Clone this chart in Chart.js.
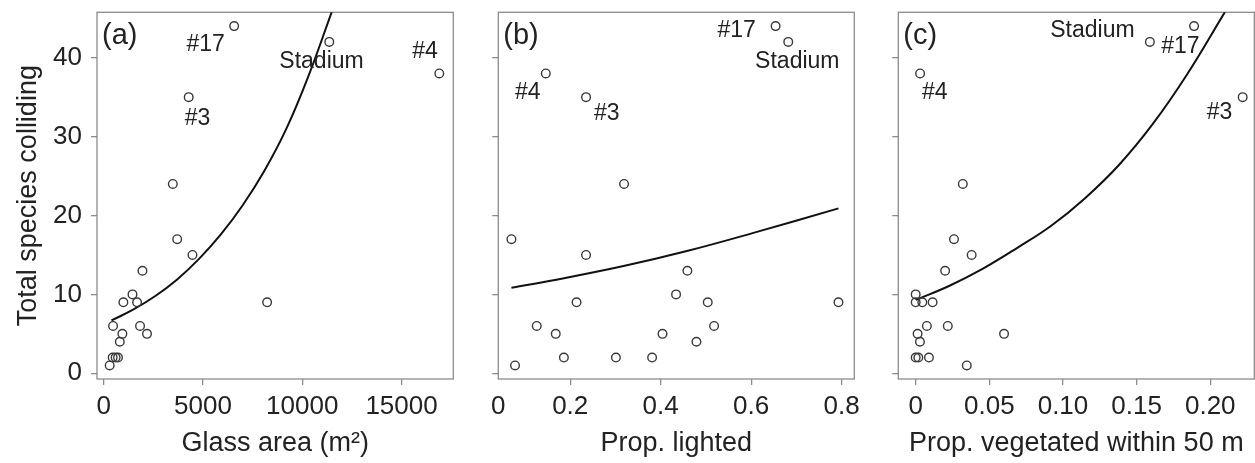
<!DOCTYPE html>
<html>
<head>
<meta charset="utf-8">
<script src="https://cdn.jsdelivr.net/npm/chart.js@4/dist/chart.umd.min.js"></script>
<style>
html,body{margin:0;padding:0;background:#fff;overflow:hidden;width:1255px;height:463px;position:relative}
canvas{position:absolute;top:0}
#ca{left:0} #cb{left:465px} #cc{left:870px}
</style>
</head>
<body>
<canvas id="ca" width="465" height="463"></canvas>
<canvas id="cb" width="405" height="463"></canvas>
<canvas id="cc" width="390" height="463"></canvas>
<script>
// species counts per site, same site order in the three x arrays
const species      = [44, 42, 38, 35, 24, 17, 15, 13, 10, 9, 9, 9, 6, 6, 5, 5, 4, 2, 2, 2, 1];
const glassArea    = [6570, 11360, 16900, 4280, 3480, 3700, 4470, 1950, 1450, 990, 1680, 8230, 470, 1830, 940, 2180, 810, 450, 600, 720, 300];
const propLighted  = [0.654, 0.682, 0.146, 0.235, 0.319, 0.070, 0.235, 0.459, 0.434, 0.214, 0.504, 0.793, 0.126, 0.518, 0.168, 0.404, 0.479, 0.186, 0.301, 0.381, 0.078];
const propVeg      = [0.189, 0.159, 0.003, 0.222, 0.032, 0.026, 0.038, 0.020, 0.000, 0.000, 0.0045, 0.0115, 0.0076, 0.0218, 0.0013, 0.060, 0.0029, 0.000, 0.0018, 0.009, 0.0347];

// fitted curves
const glassFitX = [390, 1500, 2600, 3700, 4800, 5900, 7000, 8100, 9200, 10300, 11500];
const glassFitY = [6.7, 8.1, 9.8, 11.9, 14.5, 17.6, 21.3, 25.7, 31.0, 37.6, 45.9];
const lightFitX = [0.070, 0.163, 0.318, 0.458, 0.605, 0.793];
const lightFitY = [10.85, 11.8, 13.6, 15.5, 17.8, 20.9];
const vegFitX   = [0, 0.023, 0.046, 0.069, 0.092, 0.115, 0.138, 0.161, 0.184, 0.210];
const vegFitY   = [9.3, 11.1, 13.3, 15.9, 18.7, 22.2, 26.4, 31.6, 37.8, 45.8];

// tick values
const yTicks      = [0, 10, 20, 30, 40];
const glassTicks  = [0, 5000, 10000, 15000];
const lightTicks  = [0.041, 0.2, 0.4, 0.6, 0.8];
const vegTicks    = [0, 0.05, 0.10, 0.15, 0.20];

// site labels [text, x, y]
const glassNotes = [['#17', 5130, 41.6], ['Stadium', 10970, 39.5], ['#4', 16180, 40.8], ['#3', 4720, 32.3]];
const lightNotes = [['#17', 0.568, 43.4], ['Stadium', 0.702, 39.5], ['#4', 0.106, 35.6], ['#3', 0.281, 32.95]];
const vegNotes   = [['Stadium', 0.120, 43.4], ['#17', 0.1797, 41.4], ['#4', 0.013, 35.6], ['#3', 0.2063, 33.0]];

const FONT = '"Liberation Sans", Arial, Helvetica, sans-serif';
const INK = '#222';
const BOX = '#8c8c8c';
Chart.defaults.font.family = FONT;

const decor = {
  id: 'decor',
  beforeDatasetsDraw(chart){
    const {ctx, chartArea:a} = chart;
    ctx.save();
    ctx.strokeStyle = BOX; ctx.lineWidth = 1.3;
    ctx.strokeRect(a.left, a.top, a.right - a.left, a.bottom - a.top);
    ctx.restore();
  },
  afterDraw(chart, args, opts){
    const {ctx, chartArea:a, scales} = chart;
    ctx.save();
    ctx.fillStyle = INK;
    ctx.textBaseline = 'middle';
    ctx.textAlign = 'left';
    ctx.font = '29px ' + FONT;
    ctx.fillText(opts.letter, a.left + 5, a.top + 24);
    ctx.textAlign = 'center';
    ctx.font = '23px ' + FONT;
    opts.notes.forEach(n => ctx.fillText(n[0], scales.x.getPixelForValue(n[1]), scales.y.getPixelForValue(n[2])));
    ctx.restore();
  }
};

function pts(xs){ return xs.map((x,i)=>({x:x, y:species[i]})); }
function line(xs, ys){ return xs.map((x,i)=>({x:x, y:ys[i]})); }

function panel(id, p){
  return new Chart(document.getElementById(id), {
    type: 'scatter',
    data: { datasets: [
      { data: pts(p.xs), pointRadius: 4.3, pointBorderWidth: 1.4, pointBorderColor: '#3a3a3a', pointBackgroundColor: 'rgba(0,0,0,0)', showLine: false },
      { data: line(p.fitX, p.fitY), showLine: true, borderColor: '#111', borderWidth: 2, pointRadius: 0, tension: 0.4, fill: false }
    ]},
    options: {
      responsive: false, animation: false,
      layout: { padding: { top: 12.3, right: p.rightPad, bottom: 0, left: 0 } },
      plugins: { legend: {display:false}, tooltip: {enabled:false}, decor: { letter: p.letter, notes: p.notes } },
      scales: {
        x: {
          type: 'linear', min: p.xMin, max: p.xMax,
          afterBuildTicks: s => { s.ticks = p.xTicks.map(v => ({value:v})); },
          afterFit: s => { s.height = 84; s.paddingLeft = 0; s.paddingRight = 0; },
          ticks: { callback: p.fmt, color: INK, font: {size: 26}, padding: 6, maxRotation: 0, autoSkip: false },
          grid: { drawOnChartArea: false, drawTicks: true, tickLength: 6, lineWidth: 1.3,
                  tickColor: c => (c.tick && c.tick.value === p.xMin && p.hideFirstTick) ? 'rgba(0,0,0,0)' : BOX },
          border: { display: false },
          title: { display: true, text: p.xTitle, color: INK, font: {size: 27}, padding: {top: 0, bottom: 3} }
        },
        y: {
          type: 'linear', min: -0.72, max: 45.75,
          afterBuildTicks: s => { s.ticks = yTicks.map(v => ({value:v})); },
          afterFit: s => { s.width = p.yWidth; s.paddingTop = 0; s.paddingBottom = 0; },
          ticks: { callback: v => p.yLabels ? String(v) : '', color: INK, font: {size: 26}, padding: 9 },
          grid: { drawOnChartArea: false, drawTicks: true, tickLength: 6, lineWidth: 1.3, tickColor: BOX },
          border: { display: false },
          title: { display: p.yLabels, text: 'Total species colliding', color: INK, font: {size: 27}, padding: {top: 12, bottom: 0} }
        }
      }
    },
    plugins: [decor]
  });
}

panel('ca', { xs: glassArea, fitX: glassFitX, fitY: glassFitY, xMin: -338, xMax: 17606, xTicks: glassTicks,
  fmt: v => String(v), xTitle: 'Glass area (m²)', yWidth: 97, rightPad: 11.7, yLabels: true, letter: '(a)', notes: glassNotes });

panel('cb', { xs: propLighted, fitX: lightFitX, fitY: lightFitY, xMin: 0.041, xMax: 0.828, xTicks: lightTicks, hideFirstTick: true,
  fmt: v => v < 0.1 ? '0' : v.toFixed(1), xTitle: 'Prop. lighted', yWidth: 33.3, rightPad: 15.7, yLabels: false, letter: '(b)', notes: lightNotes });

panel('cc', { xs: propVeg, fitX: vegFitX, fitY: vegFitY, xMin: -0.0118, xMax: 0.2299, xTicks: vegTicks,
  fmt: v => v === 0 ? '0' : v.toFixed(2), xTitle: 'Prop. vegetated within 50 m', yWidth: 28.3, rightPad: 4, yLabels: false, letter: '(c)', notes: vegNotes });
</script>
</body>
</html>
